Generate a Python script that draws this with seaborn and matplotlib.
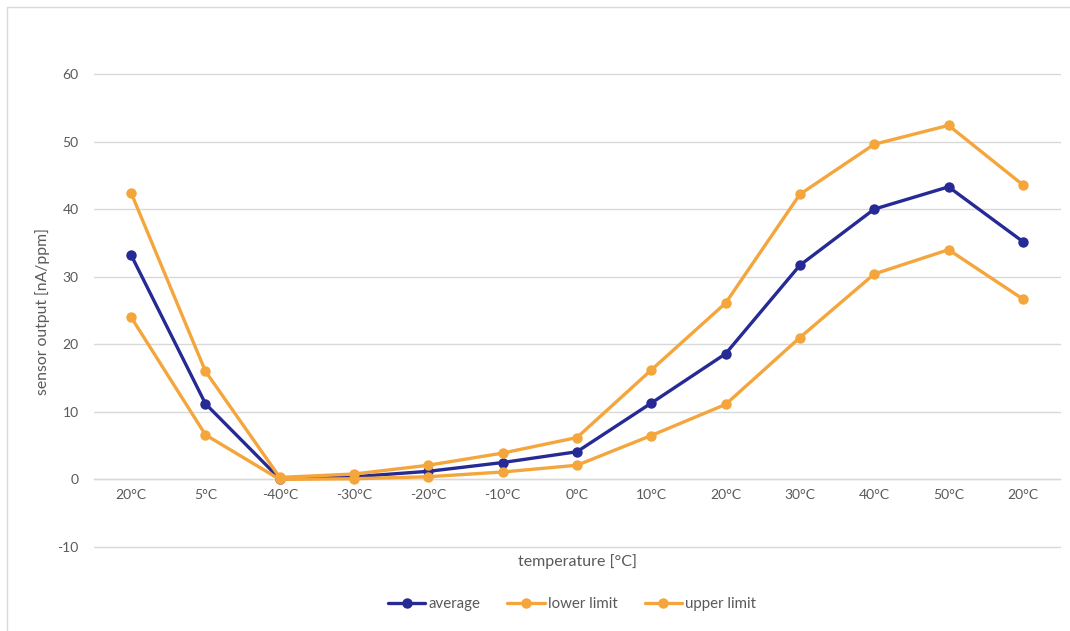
import numpy as np
import pandas as pd
import seaborn as sns
import matplotlib.pyplot as plt
from matplotlib.patches import Rectangle

categories = ["20°C", "5°C", "-40°C", "-30°C", "-20°C", "-10°C", "0°C",
              "10°C", "20°C", "30°C", "40°C", "50°C", "20°C"]
average = [33.2, 11.2, 0.1, 0.4, 1.2, 2.5, 4.1, 11.3, 18.6, 31.7, 40.0, 43.3, 35.2]
lower_limit = [24.0, 6.6, 0.0, 0.1, 0.4, 1.1, 2.1, 6.5, 11.1, 21.0, 30.4, 34.0, 26.7]
upper_limit = [42.4, 16.0, 0.3, 0.8, 2.1, 3.9, 6.2, 16.2, 26.1, 42.2, 49.6, 52.4, 43.6]
series_names = ["average", "lower limit", "upper limit"]
y_ticks = [-10, 0, 10, 20, 30, 40, 50, 60]

pos = np.arange(len(categories))
df = pd.concat([
    pd.DataFrame({"pos": pos, "value": vals, "series": name})
    for name, vals in zip(series_names, [average, lower_limit, upper_limit])
], ignore_index=True)

sns.set_theme(style="white")
plt.rcParams["font.family"] = ["Lato", "DejaVu Sans"]

W, H = 1070, 631
fig = plt.figure(figsize=(W / 100, H / 100), dpi=100)
ax = fig.add_axes([94 / W, 1 - 547 / H, (1060 - 94) / W, (547 - 74) / H])
ax.patch.set_alpha(0)

palette = {"average": "#262A94", "lower limit": "#F4A63C", "upper limit": "#F4A63C"}
sns.lineplot(data=df, x="pos", y="value", hue="series", style="series",
             hue_order=series_names, style_order=series_names,
             palette=palette, markers={n: "o" for n in series_names}, dashes=False,
             linewidth=2.4, markersize=7.5, markeredgewidth=0, ax=ax, zorder=3,
             legend=True)

ax.set_xlim(-0.5, len(categories) - 0.5)
ax.set_ylim(-10, 60)
ax.set_yticks(y_ticks)
ax.set_yticklabels([str(t) for t in y_ticks])
ax.set_xticks(pos)
ax.set_xticklabels(categories)

grid_c = "#D9D9D9"
ax.grid(axis="y", color=grid_c, linewidth=1.0, zorder=0)
ax.grid(axis="x", visible=False)
for gl in ax.get_ygridlines():
    gl.set_clip_on(False)
for s in ["top", "right", "left"]:
    ax.spines[s].set_visible(False)
ax.spines["bottom"].set_position(("data", 0))
ax.spines["bottom"].set_color(grid_c)
ax.spines["bottom"].set_linewidth(1.0)
ax.tick_params(axis="both", length=0, colors="#595959", labelsize=10)
ax.tick_params(axis="y", pad=11)
ax.tick_params(axis="x", pad=7)

ax.set_xlabel("")
ax.set_ylabel("")
fig.text(43 / W, 1 - 312 / H, "sensor output [nA/ppm]", rotation=90,
         ha="center", va="center", fontsize=11.3, color="#595959")
fig.text(577 / W, 1 - 562 / H, "temperature [°C]", ha="center", va="center",
         fontsize=11.5, color="#595959")

handles, labels = ax.get_legend_handles_labels()
ax.get_legend().remove()
fig.legend(handles, labels, loc="center", bbox_to_anchor=(572 / W, 1 - 604 / H),
           ncol=3, frameon=False, fontsize=10.8, labelcolor="#595959",
           handlelength=2.5, handletextpad=0.2, columnspacing=1.8)

fig.patches.append(Rectangle((7 / W, -0.1), 1.2, 1 - 7 / H + 0.1,
                             transform=fig.transFigure, fill=False,
                             edgecolor="#D9D9D9", linewidth=1.0))

fig.savefig("out.png", dpi=100, facecolor="white")
